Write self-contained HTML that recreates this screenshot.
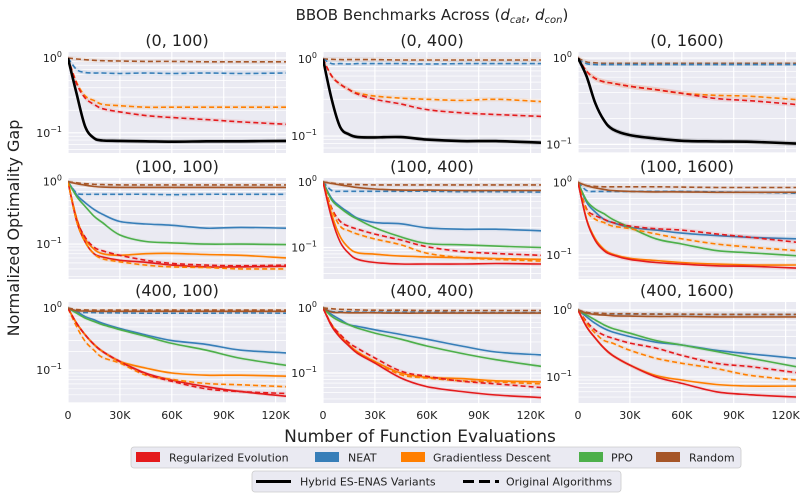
<!DOCTYPE html>
<html><head><meta charset="utf-8"><style>
body{margin:0;background:#fff;}
svg{display:block;font-family:"DejaVu Sans","Liberation Sans",sans-serif;}
</style></head><body>
<svg id="chart" width="810" height="498" viewBox="0 0 810 498" xmlns="http://www.w3.org/2000/svg">
<text x="432" y="20" font-size="15" text-anchor="middle" fill="#222">BBOB Benchmarks Across (<tspan font-style="italic">d</tspan><tspan font-style="italic" font-size="10" dy="3">cat</tspan><tspan dy="-3">, </tspan><tspan font-style="italic">d</tspan><tspan font-style="italic" font-size="10" dy="3">con</tspan><tspan dy="-3">)</tspan></text>
<text x="0" y="0" transform="translate(19,228) rotate(-90)" font-size="16" text-anchor="middle" fill="#222">Normalized Optimality Gap</text>
<text x="420" y="442" font-size="17" text-anchor="middle" fill="#222">Number of Function Evaluations</text>
<g id="panels"></g>
<g>
<rect x="131" y="447" width="610" height="21" rx="3" fill="#eaeaf2" stroke="#ccc" stroke-width="0.8"/>
<g><rect x="136" y="452" width="24" height="10" fill="#e41a1c"/><text x="169" y="461.5" font-size="11" fill="#222">Regularized Evolution</text></g>
<g><rect x="315" y="452" width="24" height="10" fill="#377eb8"/><text x="348" y="461.5" font-size="11" fill="#222">NEAT</text></g>
<g><rect x="401" y="452" width="24" height="10" fill="#ff7f00"/><text x="433" y="461.5" font-size="11" fill="#222">Gradientless Descent</text></g>
<g><rect x="579" y="452" width="24" height="10" fill="#4daf4a"/><text x="611" y="461.5" font-size="11" fill="#222">PPO</text></g>
<g><rect x="656" y="452" width="24" height="10" fill="#a65628"/><text x="689" y="461.5" font-size="11" fill="#222">Random</text></g>
</g>
<g>
<rect x="252" y="471" width="369" height="21" rx="3" fill="#eaeaf2" stroke="#ccc" stroke-width="0.8"/>
<g><line x1="256" y1="481.5" x2="291" y2="481.5" stroke="#000" stroke-width="3"/><text x="300" y="485.5" font-size="11" fill="#222">Hybrid ES-ENAS Variants</text></g>
<g><line x1="463" y1="481.5" x2="499" y2="481.5" stroke="#000" stroke-width="3" stroke-dasharray="11,5"/><text x="506" y="485.5" font-size="11" fill="#222">Original Algorithms</text></g>
</g>
</svg>
<script>
// x samples in thousands of evaluations
const xs = [0,5,10,15,20,30,45,60,80,100,126];
const xTicks = [0,30,60,90,120];
const xTickLabels = ["0","30K","60K","90K","120K"];
const panelTitles = ["(0, 100)","(0, 400)","(0, 1600)","(100, 100)","(100, 400)","(100, 1600)","(400, 100)","(400, 400)","(400, 1600)"];
// y-axis limits in log10 units per panel [top, bottom]
const yLimTop = [0.08,0.09,0.07,0.06,0.06,0.06,0.1,0.09,0.12];
const yLimBottom = [-1.27,-1.22,-1.1,-1.56,-1.48,-1.33,-1.53,-1.46,-1.39];

// Panel 1 (0,100)
const p1_random_dash = [1,0.97,0.95,0.93,0.92,0.91,0.9,0.9,0.89,0.89,0.89];
const p1_neat_dash = [1,0.7,0.64,0.63,0.63,0.62,0.63,0.62,0.63,0.62,0.63];
const p1_gd_dash = [1,0.47,0.31,0.27,0.24,0.23,0.22,0.22,0.22,0.22,0.22];
const p1_re_dash = [1,0.45,0.29,0.24,0.21,0.19,0.17,0.16,0.15,0.14,0.13];
const p1_hybrid = [1,0.33,0.12,0.085,0.079,0.078,0.077,0.076,0.077,0.077,0.078];
// Panel 2 (0,400)
const p2_random_dash = [1,0.99,0.98,0.98,0.98,0.98,0.97,0.97,0.97,0.97,0.97];
const p2_neat_dash = [1,0.87,0.87,0.86,0.87,0.87,0.87,0.86,0.87,0.87,0.87];
const p2_gd_dash = [1,0.6,0.47,0.4,0.36,0.33,0.31,0.3,0.29,0.3,0.28];
const p2_re_dash = [1,0.6,0.47,0.4,0.35,0.3,0.26,0.22,0.2,0.19,0.18];
const p2_hybrid = [1,0.3,0.13,0.105,0.097,0.096,0.097,0.09,0.086,0.086,0.082];
// Panel 3 (0,1600)
const p3_random_dash = [1,0.9,0.88,0.87,0.87,0.87,0.87,0.87,0.87,0.87,0.87];
const p3_neat_dash = [0.96,0.86,0.84,0.84,0.84,0.84,0.84,0.84,0.84,0.84,0.84];
const p3_gd_dash = [1,0.7,0.58,0.53,0.51,0.47,0.43,0.39,0.37,0.36,0.33];
const p3_re_dash = [1,0.7,0.58,0.53,0.51,0.47,0.43,0.39,0.34,0.32,0.29];
const p3_hybrid = [1,0.61,0.3,0.19,0.15,0.128,0.117,0.11,0.108,0.107,0.102];
// Panel 4 (100,100)
const p4_random = [1,0.93,0.88,0.84,0.82,0.81,0.81,0.81,0.81,0.81,0.81];
const p4_random_dash = [1,0.96,0.93,0.91,0.9,0.89,0.89,0.89,0.89,0.89,0.89];
const p4_neat_dash = [1,0.66,0.63,0.63,0.63,0.63,0.63,0.62,0.63,0.63,0.63];
const p4_neat = [1,0.62,0.46,0.36,0.3,0.23,0.21,0.2,0.18,0.185,0.18];
const p4_ppo = [1,0.58,0.4,0.28,0.22,0.14,0.11,0.105,0.1,0.1,0.098];
const p4_gd = [1,0.26,0.12,0.083,0.07,0.066,0.07,0.071,0.068,0.066,0.06];
const p4_re = [1,0.23,0.107,0.07,0.062,0.055,0.051,0.046,0.043,0.043,0.044];
const p4_re_dash = [1,0.25,0.128,0.089,0.078,0.066,0.055,0.049,0.046,0.045,0.046];
const p4_gd_dash = [1,0.23,0.107,0.07,0.058,0.052,0.046,0.043,0.042,0.04,0.04];
// Panel 5 (100,400)
const p5_random = [1,0.95,0.9,0.86,0.82,0.78,0.75,0.75,0.74,0.74,0.74];
const p5_random_dash = [1,0.96,0.93,0.92,0.91,0.9,0.9,0.9,0.9,0.9,0.9];
const p5_neat_dash = [1,0.74,0.72,0.72,0.72,0.72,0.72,0.72,0.71,0.71,0.7];
const p5_neat = [1,0.56,0.42,0.34,0.28,0.24,0.23,0.2,0.19,0.19,0.18];
const p5_ppo = [1,0.53,0.4,0.32,0.27,0.2,0.145,0.115,0.11,0.105,0.1];
const p5_re_dash = [1,0.4,0.25,0.21,0.19,0.16,0.13,0.103,0.087,0.081,0.076];
const p5_gd_dash = [1,0.38,0.21,0.18,0.16,0.135,0.11,0.082,0.07,0.066,0.062];
const p5_gd = [1,0.32,0.145,0.098,0.083,0.079,0.074,0.072,0.07,0.068,0.066];
const p5_re = [1,0.28,0.12,0.081,0.066,0.059,0.056,0.056,0.056,0.057,0.056];
// Panel 6 (100,1600)
const p6_random = [1,0.9,0.84,0.8,0.77,0.75,0.74,0.74,0.73,0.73,0.73];
const p6_random_dash = [1,0.9,0.88,0.87,0.87,0.87,0.87,0.86,0.85,0.85,0.85];
const p6_neat_dash = [1,0.77,0.75,0.75,0.75,0.75,0.75,0.75,0.74,0.73,0.71];
const p6_neat = [1,0.53,0.39,0.31,0.28,0.24,0.22,0.2,0.185,0.175,0.167];
const p6_ppo = [1,0.56,0.43,0.37,0.31,0.24,0.167,0.142,0.115,0.107,0.098];
const p6_re_dash = [1,0.43,0.35,0.31,0.28,0.25,0.23,0.22,0.195,0.175,0.15];
const p6_gd_dash = [1,0.41,0.31,0.28,0.25,0.23,0.195,0.167,0.142,0.128,0.115];
const p6_gd = [1,0.31,0.167,0.12,0.103,0.09,0.084,0.079,0.075,0.073,0.073];
const p6_re = [1,0.3,0.158,0.115,0.1,0.087,0.079,0.075,0.071,0.07,0.066];
// Panel 7 (400,100)
const p7_random = [1,0.91,0.9,0.89,0.89,0.89,0.89,0.89,0.89,0.89,0.89];
const p7_random_dash = [1,0.95,0.94,0.93,0.93,0.93,0.93,0.93,0.93,0.93,0.93];
const p7_neat_dash = [1,0.86,0.85,0.85,0.84,0.84,0.83,0.83,0.83,0.84,0.83];
const p7_neat = [1,0.88,0.73,0.65,0.57,0.47,0.37,0.3,0.26,0.21,0.19];
const p7_ppo = [1,0.83,0.69,0.61,0.54,0.45,0.35,0.27,0.21,0.155,0.12];
const p7_re = [1,0.57,0.37,0.26,0.2,0.138,0.089,0.069,0.054,0.045,0.038];
const p7_gd = [1,0.57,0.37,0.26,0.2,0.138,0.108,0.09,0.083,0.083,0.08];
const p7_gd_dash = [1,0.5,0.29,0.21,0.16,0.13,0.083,0.071,0.061,0.058,0.054];
const p7_re_dash = [1,0.57,0.37,0.26,0.2,0.138,0.087,0.066,0.05,0.045,0.042];
// Panel 8 (400,400)
const p8_random = [1,0.86,0.85,0.84,0.84,0.84,0.83,0.83,0.83,0.83,0.83];
const p8_random_dash = [1,0.97,0.95,0.94,0.93,0.92,0.92,0.91,0.91,0.91,0.91];
const p8_neat_dash = [1,0.88,0.87,0.87,0.86,0.86,0.86,0.86,0.85,0.85,0.85];
const p8_neat = [1,0.79,0.66,0.55,0.52,0.46,0.39,0.33,0.26,0.21,0.19];
const p8_ppo = [1,0.74,0.62,0.55,0.49,0.41,0.33,0.26,0.2,0.16,0.127];
const p8_gd = [1,0.55,0.37,0.27,0.21,0.15,0.1,0.086,0.082,0.076,0.073];
const p8_gd_dash = [1,0.55,0.37,0.27,0.21,0.15,0.094,0.084,0.076,0.073,0.068];
const p8_re_dash = [1,0.55,0.39,0.29,0.24,0.17,0.107,0.089,0.075,0.068,0.06];
const p8_re = [1,0.52,0.35,0.26,0.2,0.142,0.084,0.062,0.052,0.046,0.042];
// Panel 9 (400,1600)
const p9_random = [1,0.9,0.86,0.84,0.82,0.81,0.8,0.8,0.79,0.79,0.79];
const p9_random_dash = [1,0.92,0.9,0.89,0.88,0.88,0.87,0.87,0.86,0.86,0.86];
const p9_neat_dash = [1,0.9,0.88,0.87,0.87,0.87,0.87,0.86,0.86,0.86,0.86];
const p9_neat = [1,0.79,0.63,0.53,0.47,0.4,0.33,0.3,0.25,0.22,0.19];
const p9_ppo = [1,0.84,0.71,0.6,0.53,0.45,0.35,0.3,0.24,0.19,0.142];
const p9_re_dash = [1,0.67,0.5,0.42,0.38,0.32,0.27,0.21,0.16,0.142,0.116];
const p9_gd_dash = [1,0.63,0.45,0.35,0.32,0.25,0.19,0.16,0.133,0.105,0.09];
const p9_gd = [1,0.56,0.38,0.27,0.21,0.15,0.105,0.09,0.077,0.073,0.073];
const p9_re = [1,0.56,0.38,0.27,0.21,0.15,0.1,0.08,0.06,0.054,0.05];

const C = {re:"#e41a1c", neat:"#377eb8", gd:"#ff7f00", ppo:"#4daf4a", random:"#a65628", hybrid:"#000"};
const panelSeries = [
 [["random",1,p1_random_dash],["neat",1,p1_neat_dash],["gd",1,p1_gd_dash],["re",1,p1_re_dash],["hybrid",0,p1_hybrid]],
 [["random",1,p2_random_dash],["neat",1,p2_neat_dash],["gd",1,p2_gd_dash],["re",1,p2_re_dash],["hybrid",0,p2_hybrid]],
 [["random",1,p3_random_dash],["neat",1,p3_neat_dash],["gd",1,p3_gd_dash],["re",1,p3_re_dash],["hybrid",0,p3_hybrid]],
 [["neat",1,p4_neat_dash],["neat",0,p4_neat],["ppo",0,p4_ppo],["gd",0,p4_gd],["re",0,p4_re],["re",1,p4_re_dash],["gd",1,p4_gd_dash],["random",0,p4_random],["random",1,p4_random_dash]],
 [["neat",1,p5_neat_dash],["neat",0,p5_neat],["ppo",0,p5_ppo],["re",1,p5_re_dash],["gd",1,p5_gd_dash],["gd",0,p5_gd],["re",0,p5_re],["random",0,p5_random],["random",1,p5_random_dash]],
 [["neat",1,p6_neat_dash],["neat",0,p6_neat],["ppo",0,p6_ppo],["re",1,p6_re_dash],["gd",1,p6_gd_dash],["gd",0,p6_gd],["re",0,p6_re],["random",0,p6_random],["random",1,p6_random_dash]],
 [["neat",1,p7_neat_dash],["neat",0,p7_neat],["ppo",0,p7_ppo],["re",0,p7_re],["gd",0,p7_gd],["gd",1,p7_gd_dash],["re",1,p7_re_dash],["random",0,p7_random],["random",1,p7_random_dash]],
 [["neat",1,p8_neat_dash],["neat",0,p8_neat],["ppo",0,p8_ppo],["gd",0,p8_gd],["gd",1,p8_gd_dash],["re",1,p8_re_dash],["re",0,p8_re],["random",0,p8_random],["random",1,p8_random_dash]],
 [["neat",1,p9_neat_dash],["neat",0,p9_neat],["ppo",0,p9_ppo],["re",1,p9_re_dash],["gd",1,p9_gd_dash],["gd",0,p9_gd],["re",0,p9_re],["random",0,p9_random],["random",1,p9_random_dash]]
];

const NS = "http://www.w3.org/2000/svg";
const colLeft = [68,323,578], rowTop = [52,178,302], PW = 218, PH = 101, XMAX = 126;
const root = document.getElementById("panels");
function mk(tag, attrs, parent){ const e=document.createElementNS(NS,tag); for(const k in attrs) e.setAttribute(k,attrs[k]); parent.appendChild(e); return e; }
// smooth path through points (Catmull-Rom -> cubic bezier)
function smooth(pts, move){
  let d = (move?"M":"L") + pts[0][0].toFixed(1)+","+pts[0][1].toFixed(1);
  for(let i=0;i<pts.length-1;i++){
    const p0=pts[Math.max(0,i-1)], p1=pts[i], p2=pts[i+1], p3=pts[Math.min(pts.length-1,i+2)];
    const c1=[p1[0]+(p2[0]-p0[0])/6, p1[1]+(p2[1]-p0[1])/6];
    const c2=[p2[0]-(p3[0]-p1[0])/6, p2[1]-(p3[1]-p1[1])/6];
    d += "C"+c1[0].toFixed(1)+","+c1[1].toFixed(1)+" "+c2[0].toFixed(1)+","+c2[1].toFixed(1)+" "+p2[0].toFixed(1)+","+p2[1].toFixed(1);
  }
  return d;
}

panelTitles.forEach((title,i)=>{
  const L = colLeft[i%3], T = rowTop[Math.floor(i/3)];
  const hi = yLimTop[i], lo = yLimBottom[i];
  const xS = v => L + v/XMAX*PW;
  const yS = v => T + (hi - Math.log10(v))/(hi-lo)*PH;
  const g = mk("g",{},root);
  
  
  const cp = mk("clipPath",{id:"cp"+i},g); mk("rect",{x:L,y:T,width:PW,height:PH},cp);
  const bg = mk("rect",{x:L,y:T,width:PW,height:PH,fill:"#eaeaf2"},g);
  
  
  const grid = mk("g",{"clip-path":"url(#cp"+i+")"},g);
  for(let d=-2; d<=0; d++){
    for(let k=1;k<=9;k++){
      const v = k*Math.pow(10,d); const lv=Math.log10(v);
      if(lv>hi||lv<lo) continue;
      const y=yS(v);
      mk("line",{x1:L,x2:L+PW,y1:y,y2:y,stroke:"#fff","stroke-width":k===1?1.2:0.7},grid);
    }
  }
  xTicks.forEach((t,j)=>{
    const x=xS(t);
    mk("line",{x1:x,x2:x,y1:T,y2:T+PH,stroke:"#fff","stroke-width":1.2},grid);
    if(i>=6){
      const tl = mk("text",{x:x,y:T+PH+16,"font-size":11,"text-anchor":"middle",fill:"#222"},g);
      tl.textContent = xTickLabels[j];
      
      
    }
  });
  [0,-1].forEach(d=>{
    const y = yS(Math.pow(10,d));
    const yl = mk("text",{x:L-6,y:y+4,"font-size":11,"text-anchor":"end",fill:"#222"},g);
    
    
    yl.innerHTML = '10<tspan dy="-5" font-size="8">' + (d===0?'0':'\u22121') + '</tspan>';
  });
  const tt = mk("text",{x:L+PW/2,y:T-6,"font-size":16,"text-anchor":"middle",fill:"#222"},g);
  tt.textContent = title;
  
  
  const lines = mk("g",{"clip-path":"url(#cp"+i+")"},g);
  panelSeries[i].forEach(s=>{
    const col = C[s[0]], dashed = s[1], vals = s[2];
    const upPts = xs.map((x,k)=>[xS(x), yS(vals[k]*1.07)]);
    const dnPts = xs.map((x,k)=>[xS(x), yS(vals[k]/1.07)]).reverse();
    const band = mk("path",{d:smooth(upPts,true)+smooth(dnPts,false)+"Z",fill:col,"fill-opacity":s[0]==="hybrid"?0.15:0.1,stroke:"none"},lines);
    
    
    const pts = xs.map((x,k)=>[xS(x), yS(vals[k])]);
    const p = mk("path",{d:smooth(pts,true),fill:"none",stroke:col,"stroke-width":s[0]==="hybrid"?2.6:1.6,"stroke-linejoin":"round"},lines);
    if(dashed) p.setAttribute("stroke-dasharray","5,3");
    
    
  });
});
</script>
</body></html>
